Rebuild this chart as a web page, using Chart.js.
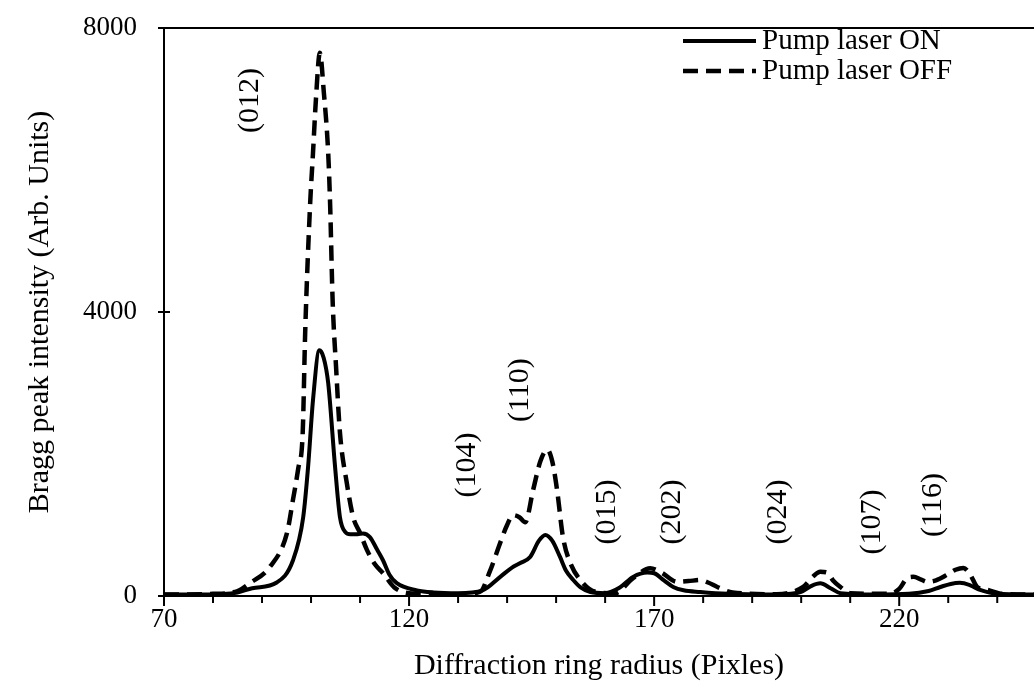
<!DOCTYPE html>
<html>
<head>
<meta charset="utf-8">
<title>Bragg peak intensity</title>
<script src="https://cdn.jsdelivr.net/npm/chart.js@4.4.1/dist/chart.umd.min.js"></script>
<style>
    html, body { margin: 0; padding: 0; background: #fff; }
    canvas { display: block; }
</style>
</head>
<body>
<canvas id="braggChart" width="1034" height="694"></canvas>
<script>
// Pump laser ON (solid)
const onRadius = [70, 78, 85, 88, 93, 96.3, 98.4, 99.4, 100.4, 101.7, 102.6, 103.5, 104.9, 105.9, 107, 108,
    109.5, 110.6, 112, 113.5, 114.7, 116, 117.5, 121.6, 125, 130, 135, 138.6, 141, 142.7, 144.7, 146.5,
    147.8, 149.2, 150.8, 152, 153.5, 155, 157, 160, 163, 165.7, 168.6, 170, 172, 173.9, 176, 179.4,
    185, 195, 200, 202, 203.9, 206, 208, 215, 222, 226, 228.4, 230.5, 232.4, 234.5, 236.5, 240, 247.5];
const onIntensity = [20, 20, 50, 110, 190, 500, 1110, 1820, 2760, 3460, 3350, 3000, 1820, 1110, 900, 870,
    870, 880, 830, 650, 500, 300, 180, 80, 50, 40, 80, 270, 400, 465, 550, 780,
    860, 780, 550, 360, 225, 120, 56, 40, 120, 268, 330, 320, 220, 127, 80, 56,
    30, 20, 60, 140, 180, 110, 40, 20, 30, 70, 127, 170, 185, 150, 85, 30, 20];

// Pump laser OFF (dashed)
const offRadius = [70, 80, 85, 87.5, 91.6, 95.1, 96.3, 97.4, 98.3, 98.8, 99.8, 100.4, 101, 101.8, 102.6,
    103.5, 103.9, 104.4, 105.1, 105.9, 107.3, 108.6, 110, 111.4, 113, 114.7, 117, 120, 130, 134.5,
    136.5, 138.6, 140, 141.2, 142.5, 143.7, 145.3, 146.8, 148.2, 149.2, 150.2, 151.4, 152.9, 155.5, 158,
    162, 165.7, 169.2, 171.5, 174.7, 177, 179.4, 181, 182.9, 186, 195, 200.4, 202.5, 203.9, 205.3,
    206.5, 208, 210, 218, 220, 221.6, 222.9, 224.5, 225.7, 227.5, 229.8, 231.5, 233.1, 234.5, 235.9,
    238, 241, 247.5];
const offIntensity = [20, 30, 70, 180, 410, 890, 1350, 1800, 2300, 3700, 5500, 6240, 7000, 7650, 7100,
    6240, 5500, 4170, 3230, 2300, 1590, 1110, 890, 650, 450, 320, 120, 40, 20, 60,
    350, 750, 1000, 1140, 1110, 1040, 1490, 1900, 2060, 1900, 1490, 830, 465, 180, 60,
    40, 250, 390, 330, 200, 210, 225, 190, 127, 50, 25, 127, 280, 340, 330,
    220, 127, 40, 30, 100, 250, 270, 230, 200, 220, 300, 370, 395, 300, 127,
    85, 30, 20];

// Axis ticks
const xMajorTicks = [70, 120, 170, 220];
const yTicks = [0, 4000, 8000];

// Miller index labels for the rings
const peakLabels = ['(012)', '(104)', '(110)', '(015)', '(202)', '(024)', '(107)', '(116)'];
const peakLabelRadius = [87.6, 131.8, 142.7, 160.4, 173.7, 195.3, 214.5, 226.9];
const peakLabelIntensity = [6980, 1845, 2900, 1183, 1183, 1183, 1042, 1281];

const serif = '"Liberation Serif", "Times New Roman", serif';

function toPoints(xs, ys) {
    return xs.map((x, i) => ({ x: x, y: ys[i] }));
}

// Draw axis ticks, top frame, ring labels and legend
const decorPlugin = {
    id: 'decor',
    afterDraw(chart) {
        const ctx = chart.ctx;
        const area = chart.chartArea;
        const xs = chart.scales.x;
        const ys = chart.scales.y;
        ctx.save();
        ctx.strokeStyle = '#000';
        ctx.lineWidth = 2;

        // top frame line
        ctx.beginPath();
        ctx.moveTo(area.left, area.top);
        ctx.lineTo(area.right, area.top);
        ctx.stroke();

        // y ticks cross the axis
        yTicks.forEach(v => {
            const py = ys.getPixelForValue(v);
            ctx.beginPath();
            ctx.moveTo(area.left - 6, py);
            ctx.lineTo(area.left + 6, py);
            ctx.stroke();
        });

        // x ticks point down, every 10
        for (let v = 70; v <= xs.max; v += 10) {
            const px = xs.getPixelForValue(v);
            const len = xMajorTicks.includes(v) ? 10 : 7;
            ctx.beginPath();
            ctx.moveTo(px, area.bottom);
            ctx.lineTo(px, area.bottom + len);
            ctx.stroke();
        }

        // rotated ring labels
        ctx.fillStyle = '#000';
        ctx.font = '30px ' + serif;
        ctx.textAlign = 'center';
        ctx.textBaseline = 'middle';
        peakLabels.forEach((txt, i) => {
            const px = xs.getPixelForValue(peakLabelRadius[i]);
            const py = ys.getPixelForValue(peakLabelIntensity[i]);
            ctx.save();
            ctx.translate(px, py);
            ctx.rotate(-Math.PI / 2);
            ctx.fillText(txt, 0, 0);
            ctx.restore();
        });

        // legend inside the plot, top right
        ctx.font = '29px ' + serif;
        ctx.textAlign = 'left';
        chart.data.datasets.forEach((ds, i) => {
            const y = 41 + i * 30;
            ctx.beginPath();
            ctx.lineWidth = ds.borderWidth;
            ctx.setLineDash(ds.borderDash || []);
            ctx.moveTo(683, y);
            ctx.lineTo(756, y);
            ctx.stroke();
            ctx.setLineDash([]);
            ctx.fillText(ds.label, 762, y);
        });
        ctx.restore();
    }
};

const ctx = document.getElementById('braggChart').getContext('2d');
const chart = new Chart(ctx, {
    type: 'line',
    data: {
        datasets: [{
            label: 'Pump laser ON',
            data: toPoints(onRadius, onIntensity),
            borderColor: '#000',
            borderWidth: 4,
            pointRadius: 0,
            fill: false,
            cubicInterpolationMode: 'monotone'
        }, {
            label: 'Pump laser OFF',
            data: toPoints(offRadius, offIntensity),
            borderColor: '#000',
            borderWidth: 4.5,
            borderDash: [15, 8],
            pointRadius: 0,
            fill: false,
            cubicInterpolationMode: 'monotone'
        }]
    },
    options: {
        responsive: false,
        animation: false,
        layout: {
            padding: { top: 28, right: 0, left: 0, bottom: 0 }
        },
        plugins: {
            legend: { display: false },
            tooltip: { enabled: false }
        },
        scales: {
            x: {
                type: 'linear',
                min: 70,
                max: 247.5,
                grid: { display: false, drawTicks: false },
                border: { display: true, color: '#000', width: 2 },
                afterFit: scale => { scale.height = 98; },
                afterBuildTicks: scale => {
                    scale.ticks = xMajorTicks.map(v => ({ value: v }));
                },
                ticks: {
                    color: '#000',
                    padding: 8,
                    maxRotation: 0,
                    font: { family: serif, size: 27 }
                },
                title: {
                    display: true,
                    text: 'Diffraction ring radius (Pixles)',
                    color: '#000',
                    padding: { top: 0, bottom: 10 },
                    font: { family: serif, size: 30 }
                }
            },
            y: {
                min: 0,
                max: 8000,
                // tickLength (not padding) spaces the labels, so the top padding stays small
                grid: { display: false, drawTicks: true, tickLength: 27 },
                border: { display: true, color: '#000', width: 2 },
                afterFit: scale => { scale.width = 164; },
                afterBuildTicks: scale => {
                    scale.ticks = yTicks.map(v => ({ value: v }));
                },
                ticks: {
                    color: '#000',
                    padding: 0,
                    font: { family: serif, size: 27 },
                    callback: v => String(v)
                },
                title: {
                    display: true,
                    text: 'Bragg peak intensity (Arb. Units)',
                    color: '#000',
                    padding: { top: 22, bottom: 0 },
                    font: { family: serif, size: 30 }
                }
            }
        }
    },
    plugins: [decorPlugin]
});
</script>
</body>
</html>
